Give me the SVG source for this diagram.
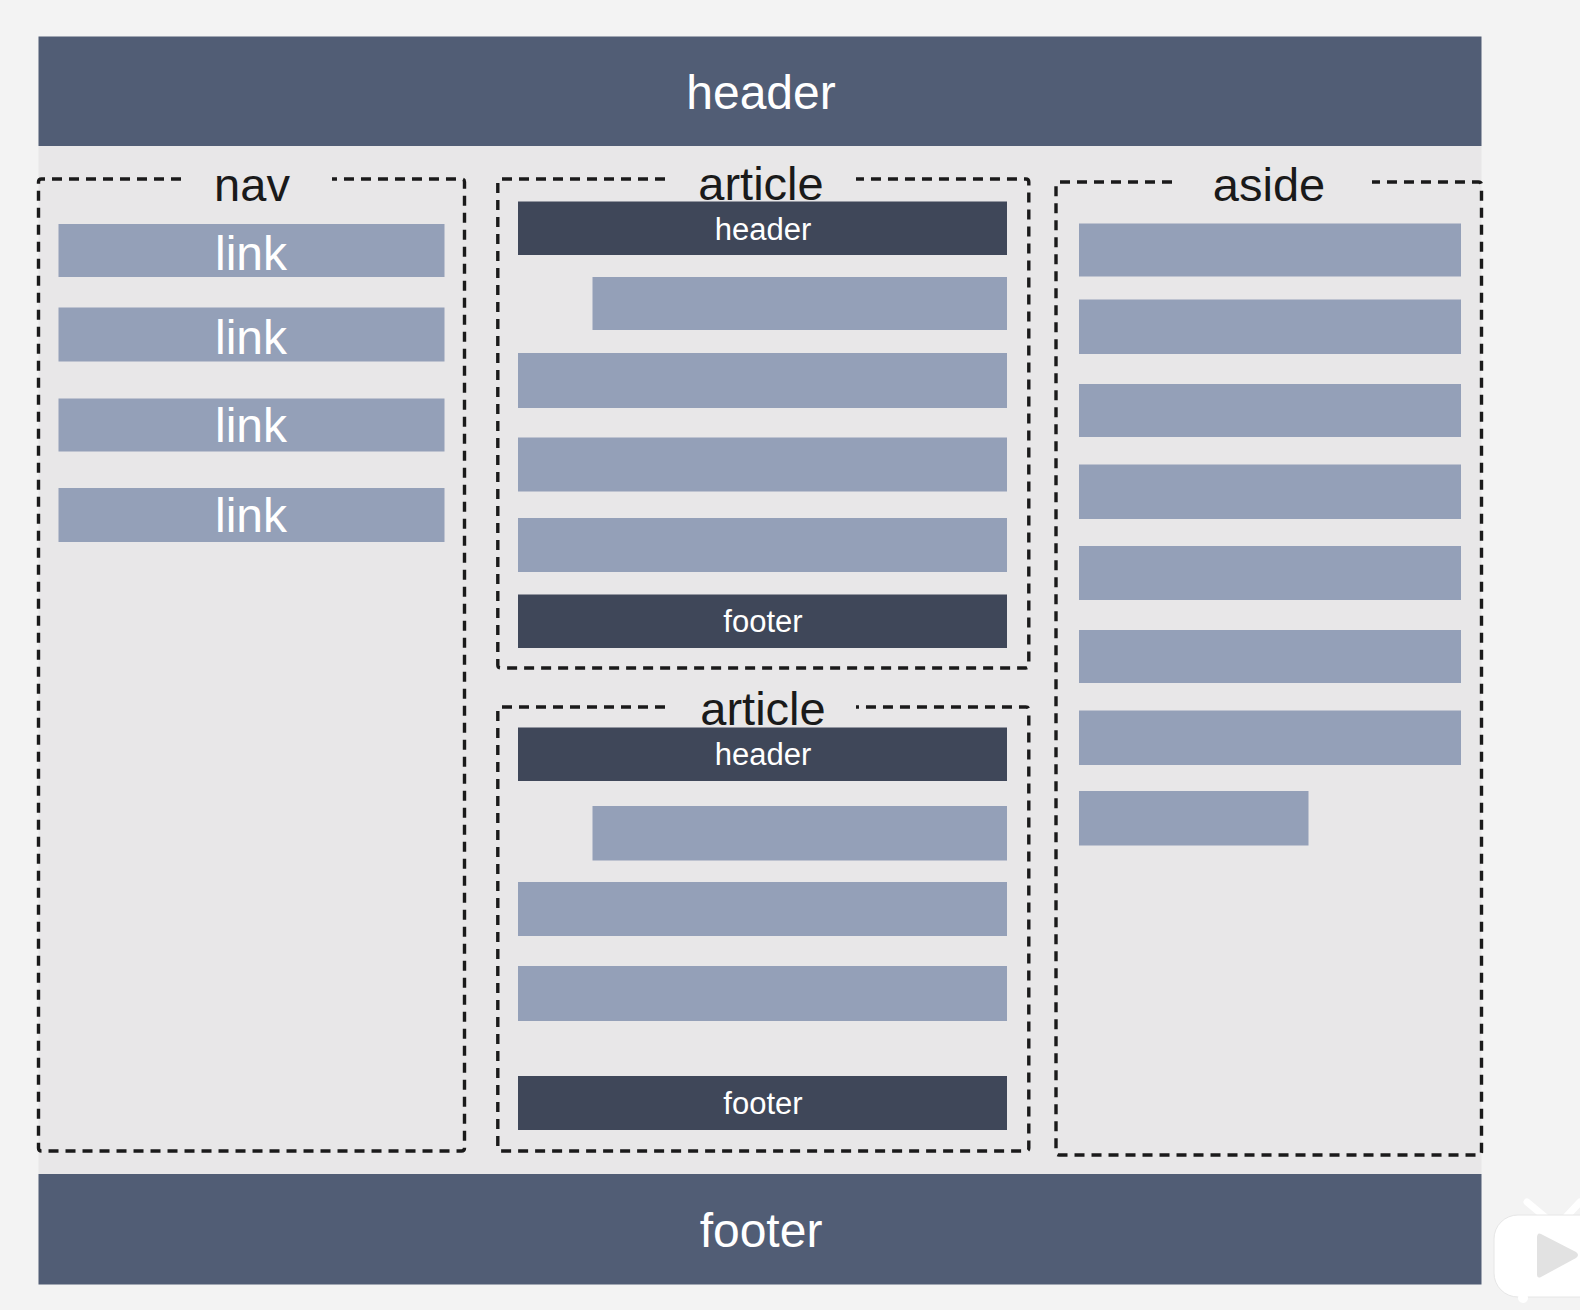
<svg xmlns="http://www.w3.org/2000/svg" width="1580" height="1310" viewBox="0 0 1580 1310">
<style>
.big{fill:#515d75}
.bar{fill:#94a0b8}
.dark{fill:#3f4759}
.dash{fill:none;stroke:#1a1a1a;stroke-width:3.4;stroke-dasharray:10 7}
text{font-family:"Liberation Sans",Arial,sans-serif;text-anchor:middle}
.wt{fill:#ffffff}
.lbl{fill:#1a1a1a;font-size:47px}
.t48{font-size:48px}
.t32{font-size:31px}
</style>
<rect x="0" y="0" width="1580" height="1310" fill="#f3f3f3"/>
<rect x="38.5" y="146" width="1443" height="1028" fill="#e8e7e8"/>

<g id="page-header">
<rect class="big" x="38.5" y="36.5" width="1443" height="109.5"/>
<text class="wt t48" x="761" y="109">header</text>
</g>

<g id="nav">
<path class="dash" d="M181,179 H41.5 Q38.5,179 38.5,182 V1148 Q38.5,1151 41.5,1151 H461.5 Q464.5,1151 464.5,1148 V182 Q464.5,179 461.5,179 H332"/>
<text class="lbl" x="252" y="201">nav</text>
<rect class="bar" x="58.5" y="224" width="386" height="53"/>
<text class="wt t48" x="251" y="270">link</text>
<rect class="bar" x="58.5" y="307.5" width="386" height="54"/>
<text class="wt t48" x="251" y="354">link</text>
<rect class="bar" x="58.5" y="398.5" width="386" height="53"/>
<text class="wt t48" x="251" y="442">link</text>
<rect class="bar" x="58.5" y="488" width="386" height="54"/>
<text class="wt t48" x="251" y="532">link</text>
</g>

<g id="article-1">
<path class="dash" d="M665,179 H500.8 Q497.8,179 497.8,182 V665 Q497.8,668 500.8,668 H1025.8 Q1028.8,668 1028.8,665 V182 Q1028.8,179 1025.8,179 H856"/>
<text class="lbl" x="761" y="200">article</text>
<rect class="dark" x="518" y="201.5" width="489" height="53.5"/>
<text class="wt t32" x="763" y="240">header</text>
<rect class="bar" x="592.5" y="277" width="414.5" height="53"/>
<rect class="bar" x="518" y="353" width="489" height="55"/>
<rect class="bar" x="518" y="437.5" width="489" height="54"/>
<rect class="bar" x="518" y="518" width="489" height="54"/>
<rect class="dark" x="518" y="594.5" width="489" height="53.5"/>
<text class="wt t32" x="763" y="632">footer</text>
</g>

<g id="article-2">
<path class="dash" d="M665,707 H500.8 Q497.8,707 497.8,710 V1148 Q497.8,1151 500.8,1151 H1025.8 Q1028.8,1151 1028.8,1148 V710 Q1028.8,707 1025.8,707 H856"/>
<text class="lbl" x="763" y="725">article</text>
<rect class="dark" x="518" y="727.5" width="489" height="53.5"/>
<text class="wt t32" x="763" y="765">header</text>
<rect class="bar" x="592.5" y="806" width="414.5" height="54.5"/>
<rect class="bar" x="518" y="882" width="489" height="54"/>
<rect class="bar" x="518" y="966" width="489" height="55"/>
<rect class="dark" x="518" y="1076" width="489" height="54"/>
<text class="wt t32" x="763" y="1114">footer</text>
</g>

<g id="aside">
<path class="dash" d="M1172,182 H1059 Q1056,182 1056,185 V1152 Q1056,1155 1059,1155 H1478.5 Q1481.5,1155 1481.5,1152 V185 Q1481.5,182 1478.5,182 H1372"/>
<text class="lbl" x="1269" y="201">aside</text>
<rect class="bar" x="1079" y="223.5" width="382" height="53"/>
<rect class="bar" x="1079" y="299.5" width="382" height="54.5"/>
<rect class="bar" x="1079" y="384" width="382" height="53"/>
<rect class="bar" x="1079" y="464.5" width="382" height="54.5"/>
<rect class="bar" x="1079" y="546" width="382" height="54"/>
<rect class="bar" x="1079" y="630" width="382" height="53"/>
<rect class="bar" x="1079" y="710.5" width="382" height="54.5"/>
<rect class="bar" x="1079" y="791" width="229.5" height="54.5"/>
</g>

<g id="page-footer">
<rect class="big" x="38.5" y="1174" width="1443" height="110.5"/>
<text class="wt t48" x="761" y="1247">footer</text>
</g>

<g id="watermark">
<line x1="1527" y1="1202" x2="1545" y2="1217" stroke="#ffffff" stroke-width="7" stroke-linecap="round"/>
<line x1="1580" y1="1202" x2="1566" y2="1217" stroke="#ffffff" stroke-width="7" stroke-linecap="round"/>
<rect x="1494" y="1215" width="110" height="82" rx="24" fill="#ffffff" stroke="#e6e6e6" stroke-width="1"/>
<circle cx="1523" cy="1298" r="5" fill="#ffffff"/>
<path d="M1541,1234 L1576,1252 Q1580,1255 1576,1258 L1541,1277 Q1537,1279 1537,1274 V1238 Q1537,1232 1541,1234 Z" fill="#e2e2e2"/>
</g>
</svg>
